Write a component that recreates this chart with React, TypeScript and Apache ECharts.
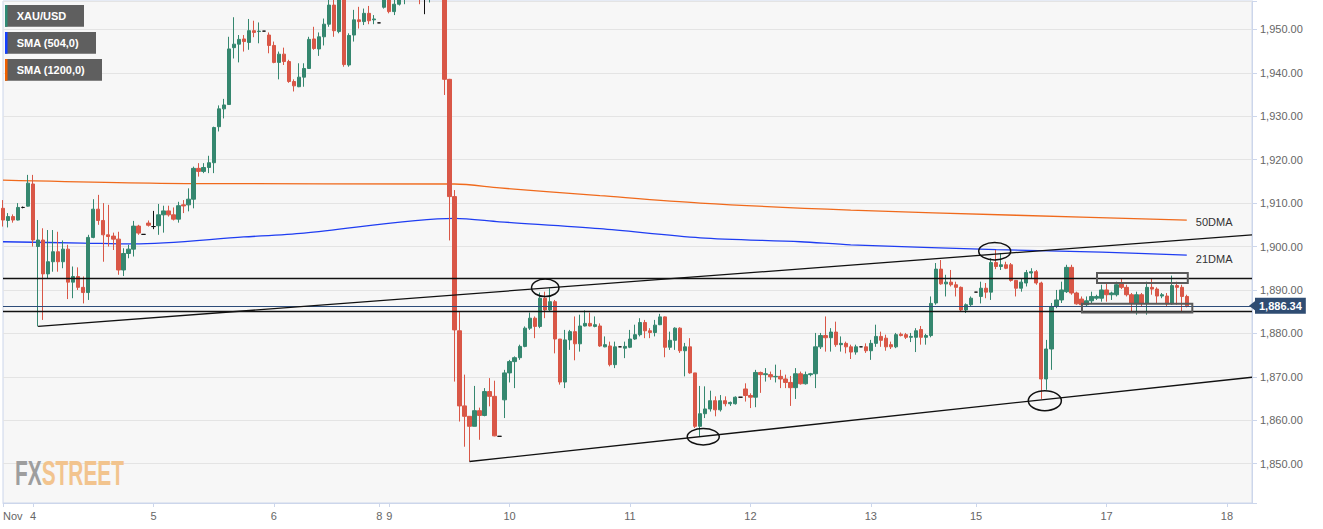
import React, { useEffect, useRef } from 'react';
import * as echarts from 'echarts';

// trading sessions: [day, startHour, hourCount, tickLabel]
const sessions: [number, number, number, string][] = [
  [3, 18, 6, 'Nov'], [4, 0, 24, '4'], [5, 0, 24, '5'], [6, 0, 21, '6'],
  [8, 22, 2, '8'], [9, 0, 24, '9'], [10, 0, 24, '10'], [11, 0, 24, '11'],
  [12, 0, 24, '12'], [13, 0, 21, '13'], [15, 22, 2, '15'], [16, 0, 24, ''],
  [17, 0, 24, '17'], [18, 0, 6, '18'],
];

// hourly candles: [open, close, low, high]
const candles: number[][] = [
  [1908.8,1906.1,1904.6,1910.7],[1906.0,1906.9,1904.4,1907.7],[1906.9,1906.1,1905.5,1907.4],[1906.1,1909.0,1906.0,1910.0],
  [1909.0,1909.0,1908.8,1909.2],[1909.3,1914.6,1909.2,1916.5],[1914.4,1901.5,1900.0,1916.5],[1900.0,1901.5,1881.6,1906.1],
  [1901.5,1893.7,1883.1,1904.2],[1893.7,1896.5,1892.7,1903.8],[1896.5,1898.8,1894.2,1903.8],[1898.8,1896.5,1894.2,1903.4],
  [1896.5,1899.4,1895.0,1901.4],[1899.4,1891.8,1887.9,1900.4],[1891.8,1893.1,1888.1,1895.4],[1893.1,1890.6,1890.0,1895.2],
  [1890.6,1889.4,1886.9,1893.1],[1889.4,1902.1,1887.7,1902.7],[1902.1,1908.6,1901.9,1910.9],[1908.6,1906.0,1905.0,1911.9],
  [1906.0,1902.7,1896.5,1910.0],[1902.7,1902.3,1900.0,1909.6],[1902.4,1901.7,1899.2,1903.2],[1901.7,1894.6,1893.5,1903.4],
  [1894.6,1898.4,1893.2,1899.6],[1898.4,1899.4,1897.3,1900.4],[1899.4,1904.7,1897.7,1905.9],[1904.7,1903.1,1902.7,1905.0],
  [1902.8,1902.8,1902.8,1902.8],[1905.4,1904.9,1904.6,1906.0],[1904.6,1904.6,1904.0,1908.2],[1904.8,1907.3,1902.7,1909.8],
  [1907.3,1908.2,1903.2,1909.4],[1908.2,1907.3,1906.9,1909.4],[1907.3,1906.3,1906.0,1909.0],[1906.3,1909.4,1905.5,1910.3],
  [1909.6,1909.35,1907.7,1910.7],[1909.6,1910.9,1908.1,1913.4],[1910.9,1918.0,1908.8,1918.4],[1918.0,1917.3,1916.1,1919.2],
  [1917.3,1918.2,1916.9,1919.2],[1918.2,1919.3,1916.9,1920.9],[1919.3,1927.4,1916.9,1927.6],[1927.6,1931.7,1926.5,1932.5],
  [1931.7,1932.6,1929.5,1934.0],[1932.7,1945.5,1932.6,1948.3],[1945.8,1946.6,1943.3,1952.8],[1946.6,1947.7,1942.4,1948.7],
  [1947.8,1947.2,1944.9,1948.7],[1947.0,1949.7,1945.3,1952.4],[1949.7,1949.3,1948.2,1952.0],[1949.5,1949.6,1946.8,1951.6],
  [1949.6,1949.6,1949.6,1949.6],[1948.7,1946.3,1944.5,1949.3],[1946.3,1942.4,1942.2,1947.2],[1942.4,1944.3,1938.5,1944.9],
  [1944.3,1942.6,1941.8,1945.8],[1942.6,1938.0,1937.7,1943.0],[1938.0,1937.0,1935.7,1938.5],[1936.8,1939.0,1936.7,1942.2],
  [1939.0,1941.0,1936.8,1942.2],[1941.0,1947.7,1940.9,1948.3],[1947.8,1945.6,1945.3,1950.6],[1945.5,1948.3,1943.9,1949.3],
  [1948.3,1951.2,1946.3,1952.5],[1951.2,1955.6,1950.6,1957.5],[1955.6,1949.7,1948.3,1957.0],[1949.5,1958.5,1949.1,1959.5],
  [1958.5,1941.9,1941.4,1960.0],[1941.8,1948.6,1941.4,1949.1],[1948.7,1952.2,1947.2,1954.5],[1952.2,1951.8,1950.2,1955.2],
  [1951.8,1953.7,1951.0,1954.8],[1953.7,1952.0,1951.2,1955.4],[1952.2,1952.4,1951.2,1953.3],[1951.5,1951.5,1951.5,1951.5],
  [1955.1,1957.5,1954.8,1958.0],[1958.0,1954.1,1953.7,1959.0],[1954.1,1955.8,1953.3,1957.0],[1955.8,1958.5,1955.5,1959.5],
  [1958.5,1960.0,1955.8,1961.0],[1960.0,1962.0,1959.0,1963.0],[1962.0,1961.0,1959.5,1963.5],[1961.0,1958.5,1955.8,1962.0],
  [1958.5,1958.5,1953.5,1960.0],[1958.5,1960.0,1956.2,1962.0],[1960.0,1962.0,1958.0,1964.0],[1962.0,1960.0,1957.5,1963.0],
  [1960.0,1938.5,1934.9,1962.0],[1938.5,1911.5,1901.4,1938.6],[1911.5,1880.8,1868.9,1913.0],[1880.6,1863.3,1859.7,1885.0],
  [1863.3,1860.9,1853.9,1870.5],[1860.9,1858.6,1850.5,1860.9],[1858.6,1862.2,1858.6,1867.9],[1862.2,1861.1,1855.5,1862.9],
  [1861.1,1866.6,1860.9,1867.4],[1866.6,1865.5,1863.2,1869.7],[1865.5,1856.4,1856.3,1869.1],[1856.3,1856.3,1856.3,1856.3],
  [1864.7,1870.9,1860.5,1871.6],[1870.9,1873.5,1868.7,1873.9],[1873.5,1874.4,1867.4,1874.7],[1874.4,1877.0,1873.9,1877.4],
  [1877.0,1881.2,1876.8,1881.6],[1881.2,1883.5,1880.8,1884.8],[1883.5,1881.6,1878.9,1883.9],[1881.6,1888.1,1881.2,1889.4],
  [1888.1,1885.4,1883.5,1889.6],[1885.4,1887.3,1885.0,1890.4],[1887.3,1878.7,1875.4,1887.7],[1878.7,1868.8,1868.2,1878.7],
  [1868.8,1878.5,1867.4,1880.8],[1878.5,1880.4,1876.2,1880.8],[1880.4,1877.6,1873.8,1883.9],[1877.6,1881.7,1875.8,1884.3],
  [1881.7,1882.3,1881.6,1885.3],[1882.3,1881.7,1881.6,1884.8],[1881.6,1882.0,1881.4,1883.9],[1881.7,1877.1,1876.9,1882.3],
  [1876.9,1877.4,1876.8,1879.3],[1877.1,1872.8,1872.4,1878.1],[1872.8,1876.9,1872.0,1878.1],[1876.9,1876.9,1876.9,1876.9],
  [1876.6,1877.0,1874.3,1878.1],[1876.8,1878.7,1876.6,1880.8],[1878.7,1879.7,1878.5,1882.0],[1879.7,1882.5,1879.3,1883.5],
  [1882.5,1880.6,1878.9,1883.1],[1880.6,1880.2,1878.9,1881.2],[1880.2,1881.9,1879.3,1883.1],[1882.0,1883.8,1881.9,1884.5],
  [1883.8,1876.8,1874.5,1883.9],[1876.8,1878.4,1876.2,1880.4],[1878.4,1881.2,1876.2,1881.4],[1881.2,1876.0,1875.5,1881.4],
  [1876.0,1876.9,1870.1,1877.8],[1876.9,1870.9,1870.7,1878.9],[1870.9,1858.6,1858.2,1870.9],[1858.6,1861.5,1856.3,1867.9],
  [1861.5,1862.6,1860.5,1867.8],[1862.6,1864.5,1862.0,1866.8],[1864.5,1862.4,1860.9,1865.5],[1862.4,1864.5,1862.0,1865.8],
  [1864.5,1863.8,1863.2,1865.5],[1863.8,1864.1,1863.3,1864.3],[1863.8,1865.3,1863.6,1865.5],[1865.3,1865.3,1865.3,1865.3],
  [1867.2,1865.7,1864.3,1868.5],[1865.7,1865.3,1862.8,1866.2],[1865.3,1871.0,1863.0,1871.6],[1871.0,1870.5,1866.3,1871.2],
  [1870.5,1870.7,1868.9,1872.0],[1870.5,1870.0,1869.3,1871.2],[1870.0,1870.1,1868.7,1872.8],[1870.1,1869.5,1867.4,1871.6],
  [1869.5,1868.7,1867.4,1870.5],[1868.7,1867.5,1863.3,1870.2],[1867.5,1870.7,1864.9,1872.0],[1870.7,1868.4,1868.2,1871.2],
  [1868.4,1870.5,1868.2,1871.2],[1870.5,1870.7,1870.1,1870.9],[1870.7,1876.9,1867.4,1880.1],[1876.9,1879.5,1876.4,1880.1],
  [1879.5,1879.0,1875.8,1883.9],[1879.0,1880.3,1875.8,1881.2],[1880.3,1877.4,1876.9,1882.7],[1877.4,1877.7,1875.8,1879.3],
  [1877.7,1876.9,1875.4,1878.1],[1876.9,1875.7,1874.1,1877.4],[1875.7,1876.9,1875.1,1877.4],[1876.9,1876.9,1876.9,1876.9],
  [1876.9,1876.0,1875.5,1877.7],[1876.0,1877.7,1873.9,1878.5],[1877.7,1879.3,1876.9,1882.0],[1879.3,1878.4,1876.9,1880.4],
  [1878.9,1876.9,1876.0,1879.7],[1877.4,1876.9,1876.4,1878.1],[1876.9,1879.7,1876.6,1880.1],[1879.8,1879.5,1879.3,1880.2],
  [1879.7,1879.1,1878.7,1880.1],[1879.1,1879.3,1878.0,1880.1],[1879.1,1880.6,1875.7,1881.2],[1880.9,1879.1,1877.4,1881.7],
  [1879.1,1879.5,1877.4,1879.9],[1879.5,1886.9,1879.1,1888.5],[1887.0,1894.8,1886.6,1896.2],[1894.8,1891.4,1891.2,1896.9],
  [1891.4,1891.8,1888.5,1893.5],[1891.8,1891.2,1890.8,1894.6],[1891.2,1890.6,1888.5,1891.9],[1890.6,1885.4,1885.0,1890.8],
  [1885.4,1886.6,1884.7,1886.9],[1886.6,1888.1,1886.2,1888.5],[1889.5,1889.5,1889.5,1889.5],[1888.5,1890.4,1886.9,1891.9],
  [1890.4,1889.5,1888.1,1891.6],[1889.5,1896.3,1887.7,1897.3],[1896.3,1895.4,1894.8,1899.2],[1895.4,1895.8,1894.6,1898.5],
  [1895.8,1895.0,1894.8,1896.5],[1895.8,1892.2,1891.9,1896.2],[1892.2,1890.4,1888.5,1892.3],[1890.4,1891.8,1889.6,1892.7],
  [1891.6,1894.0,1890.8,1894.6],[1893.9,1894.2,1892.7,1895.0],[1894.2,1891.6,1891.2,1894.6],[1891.6,1869.5,1864.9,1891.9],
  [1869.5,1876.4,1867.0,1878.5],[1876.4,1886.2,1871.6,1887.0],[1886.2,1887.7,1885.8,1890.0],[1887.7,1890.0,1887.0,1891.9],
  [1889.6,1895.2,1889.3,1895.8],[1895.2,1889.3,1888.9,1895.8],[1889.3,1886.8,1886.6,1889.6],[1887.9,1886.6,1886.2,1888.5],
  [1886.6,1887.5,1886.2,1888.5],[1887.5,1888.5,1886.9,1889.6],[1888.1,1888.5,1887.7,1888.9],[1888.1,1890.0,1887.3,1891.2],
  [1890.0,1888.9,1887.3,1891.6],[1888.9,1889.3,1887.7,1889.6],[1888.9,1891.2,1888.5,1891.9],[1891.4,1890.6,1890.2,1892.5],
  [1890.6,1888.9,1888.5,1891.2],[1888.9,1887.0,1885.0,1889.3],[1887.0,1888.9,1884.3,1889.6],[1888.9,1887.0,1886.2,1889.3],
  [1887.0,1890.6,1884.3,1891.9],[1890.6,1890.2,1888.9,1892.7],[1890.2,1888.6,1887.0,1890.6],[1888.6,1888.9,1888.1,1889.3],
  [1888.6,1886.8,1886.2,1889.3],[1886.8,1891.0,1886.6,1893.3],[1891.0,1890.6,1886.6,1891.9],[1890.6,1888.5,1884.7,1891.2],
  [1888.5,1886.34,1886.0,1888.9],
];

// moving averages: [slot index, value]
const sma504: [number, number][] = [
  [0, 1901.1], [16, 1900.8], [26, 1900.6], [48, 1902.2], [60, 1903.1], [90, 1906.5],
  [99, 1905.7], [119, 1904.1], [139, 1902.0], [159, 1901.1], [169, 1900.4], [198, 1899.3],
  [219, 1898.7], [236, 1898.0],
];
const sma1200: [number, number][] = [
  [0, 1915.3], [38, 1914.5], [90, 1914.4], [99, 1913.5], [119, 1911.7], [139, 1910.0],
  [169, 1908.4], [202, 1907.2], [236, 1906.1],
];

const levels = [1892.7, 1885.2];
const lastPrice = 1886.34;
const trendLines: [number, number][][] = [
  [[7, 1881.6], [249, 1902.7]],
  [[93, 1850.5], [249, 1869.9]],
];
// [slot, price, rx px, ry px]
const ellipses: number[][] = [
  [108.1, 1890.5, 13.7, 8.8],
  [139.6, 1856.2, 16, 8.2],
  [197.7, 1898.9, 16, 8.7],
  [207.7, 1864.5, 16.5, 10],
];
// [slot start, price top, slot end, price bottom]
const boxes: number[][] = [
  [218.1, 1893.9, 236.2, 1891.6],
  [215.1, 1886.8, 237.1, 1884.8],
];
const legendItems: [string, string, number][] = [
  ['XAU/USD', '#2e8b75', 79],
  ['SMA (504,0)', '#1440ff', 91],
  ['SMA (1200,0)', '#f06000', 97],
];

const UP = '#35876f';
const DOWN = '#d95747';
const FONT = '"Liberation Sans", Arial, sans-serif';

export default function App() {
  const ref = useRef<HTMLDivElement>(null);
  useEffect(() => {
    if (!ref.current) return;
    const chart = echarts.init(ref.current, undefined, { renderer: 'svg' });

    const categories: string[] = [];
    const tickLabels = new Map<number, string>();
    sessions.forEach(([day, start, count, label]) => {
      if (label) tickLabels.set(categories.length, label);
      for (let h = 0; h < count; h++) categories.push(`${day}-${start + h}`);
    });

    const fmt = (v: number) =>
      v.toLocaleString('en-US', { minimumFractionDigits: 2, maximumFractionDigits: 2 });

    const option: any = {
      animation: false,
      textStyle: { fontFamily: FONT },
      grid: {
        left: 0, right: 71, top: 1, bottom: 26, show: true,
        backgroundColor: '#f7f7f7', borderColor: '#ccd6eb', borderWidth: 1,
      },
      xAxis: {
        type: 'category', data: categories, boundaryGap: false,
        axisLine: { lineStyle: { color: '#ccd6eb' } },
        axisTick: { show: true, interval: (i: number) => tickLabels.has(i), length: 4, lineStyle: { color: '#ccd6eb' } },
        axisLabel: {
          interval: (i: number) => tickLabels.has(i),
          formatter: (_v: string, i: number) => tickLabels.get(i) ?? '',
          color: '#666', fontSize: 11, margin: 7, alignMinLabel: 'left',
        },
        splitLine: { show: false },
      },
      yAxis: {
        type: 'value', position: 'right', min: 1840.94, max: 1956.54, splitNumber: 11,
        axisLine: { show: true, lineStyle: { color: '#ccd6eb' } },
        axisTick: { show: true, length: 5, lineStyle: { color: '#ccd6eb' } },
        axisLabel: {
          color: '#666', fontSize: 11, margin: 8,
          formatter: (v: number) => (Math.abs(v - Math.round(v / 10) * 10) < 1e-6 ? fmt(v) : ''),
        },
        splitLine: { lineStyle: { color: '#e4e4e4' } },
      },
      series: [
        {
          type: 'line', data: sma1200, smooth: 0.3, showSymbol: false, symbol: 'none',
          lineStyle: { color: '#f06a1c', width: 1.3 }, z: 3,
          endLabel: { show: true, formatter: '50DMA', color: '#333', fontSize: 11, distance: 9, offset: [0, 2] },
        },
        {
          type: 'line', data: sma504, smooth: 0.3, showSymbol: false, symbol: 'none',
          lineStyle: { color: '#1f3df2', width: 1.3 }, z: 3,
          endLabel: { show: true, formatter: '21DMA', color: '#333', fontSize: 11, distance: 9, offset: [0, 4] },
        },
        {
          type: 'candlestick', data: candles, barWidth: 3.8, z: 4,
          itemStyle: {
            color: UP, color0: DOWN, borderColor: UP, borderColor0: DOWN,
            borderColorDoji: '#111', borderWidth: 1,
          },
          markLine: {
            symbol: ['none', 'none'], silent: true,
            label: { show: false },
            lineStyle: { type: 'solid', color: '#111', width: 1.3 },
            data: [
              ...levels.map((y) => ({ yAxis: y })),
              {
                yAxis: lastPrice,
                lineStyle: { color: '#2d4c79', width: 1.2, type: 'solid' },
                label: {
                  show: true, position: 'end', distance: 3, formatter: fmt(lastPrice),
                  backgroundColor: '#2f4c72', color: '#fff', fontWeight: 'bold',
                  fontSize: 11, padding: [3, 4, 2, 4],
                },
              },
              ...trendLines.map(([a, b]) => [{ coord: a }, { coord: b }]),
            ],
          },
        },
      ],
    };
    chart.setOption(option);

    const toPx = (i: number, p: number) => {
      const i0 = Math.floor(i);
      const a = chart.convertToPixel({ gridIndex: 0 }, [i0, p]) as number[];
      const b = chart.convertToPixel({ gridIndex: 0 }, [i0 + 1, p]) as number[];
      const t = i - i0;
      return [a[0] + (b[0] - a[0]) * t, a[1]];
    };

    const graphics: any[] = [];
    ellipses.forEach(([i, p, rx, ry]) => {
      const [cx, cy] = toPx(i, p);
      graphics.push({
        type: 'ellipse', shape: { cx, cy, rx, ry }, z: 10, silent: true,
        style: { fill: 'none', stroke: '#111', lineWidth: 1.5 },
      });
    });
    boxes.forEach(([i0, p0, i1, p1]) => {
      const [x0, y0] = toPx(i0, p0);
      const [x1, y1] = toPx(i1, p1);
      graphics.push({
        type: 'rect', shape: { x: x0, y: y0, width: x1 - x0, height: y1 - y0 }, z: 10, silent: true,
        style: { fill: 'none', stroke: '#5a5a5a', lineWidth: 2 },
      });
    });
    // price tag arrow
    const [ax, py] = toPx(249, lastPrice);
    graphics.push({
      type: 'polygon', z: 20, silent: true,
      shape: { points: [[ax - 3, py], [ax + 3.5, py - 5], [ax + 3.5, py + 5]] },
      style: { fill: '#2f4c72' },
    });
    // legend boxes
    legendItems.forEach(([label, color, w], k) => {
      const y = 5 + k * 27;
      graphics.push({
        type: 'group', x: 5, y, z: 30, silent: true,
        children: [
          { type: 'rect', shape: { x: 0, y: 0, width: w, height: 21.7 }, style: { fill: '#5f5f5f' } },
          { type: 'rect', shape: { x: 0, y: 0, width: 2.5, height: 21.7 }, style: { fill: color } },
          {
            type: 'text', x: 11.7, y: 11.2,
            style: { text: label, fill: '#fff', font: `bold 11px ${FONT}`, verticalAlign: 'middle' },
          },
        ],
      });
    });
    // watermark
    graphics.push({
      type: 'group', x: 15, y: 472, scaleX: 0.58, z: 1, silent: true,
      children: [
        { type: 'text', x: 0, y: 0, style: { text: 'FX', fill: '#9e9e9e', font: `bold 36px ${FONT}`, verticalAlign: 'middle' } },
        { type: 'text', x: 46, y: 0, style: { text: 'STREET', fill: '#f2c48e', font: `bold 36px ${FONT}`, verticalAlign: 'middle' } },
      ],
    });
    chart.setOption({ graphic: graphics });

    return () => chart.dispose();
  }, []);

  return (
    <div
      ref={ref}
      style={{ position: 'fixed', left: 0, top: 0, width: 1323, height: 529, background: '#fff' }}
    />
  );
}
